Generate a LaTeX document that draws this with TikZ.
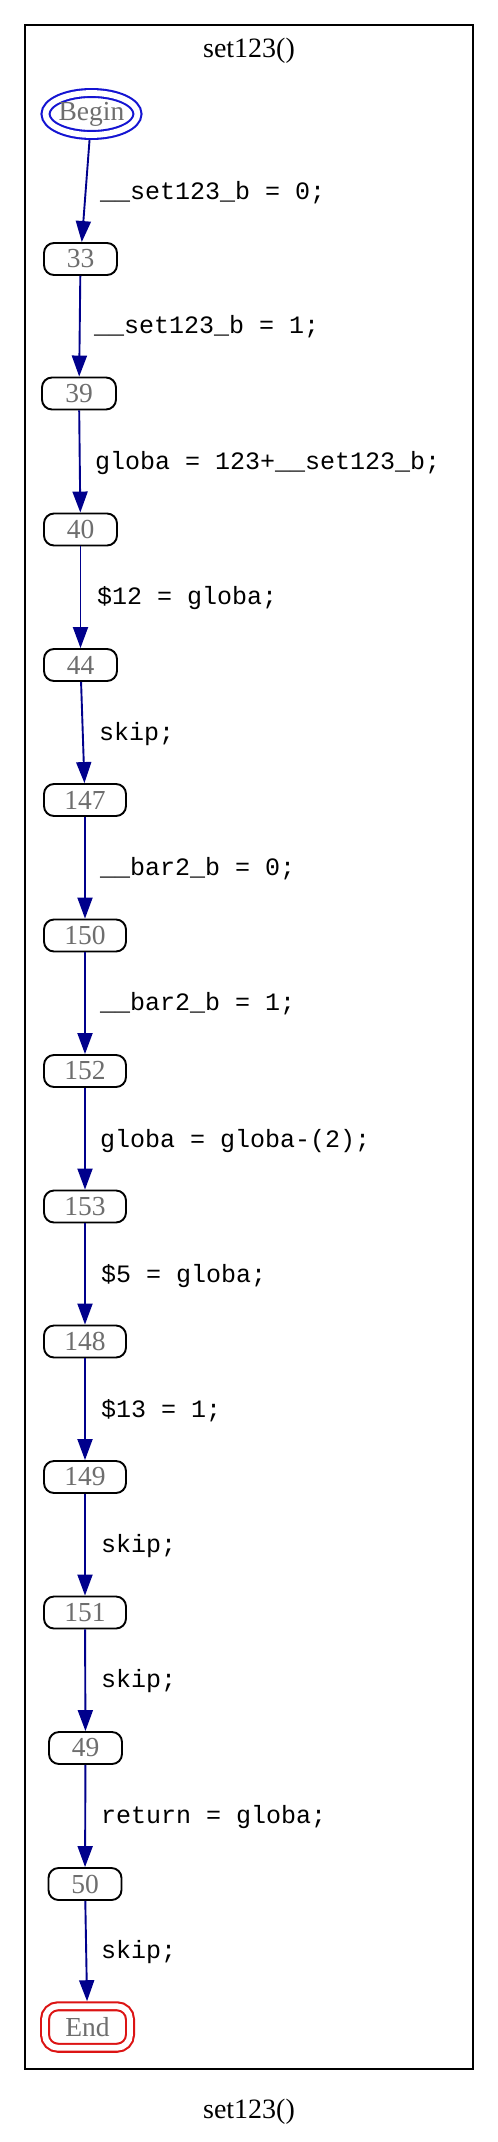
\documentclass[tikz,border=0pt]{standalone}
\usepackage{fontspec}
\setmainfont{Liberation Serif}
\newfontfamily\monofnt{Liberation Mono}
\usetikzlibrary{arrows.meta,shapes.geometric}
\definecolor{edgeblue}{RGB}{0,0,140}
\definecolor{beginblue}{RGB}{20,20,210}
\definecolor{endred}{RGB}{220,20,20}
\definecolor{lblgray}{RGB}{110,110,110}
\begin{document}
\begin{tikzpicture}[x=1pt,y=-1pt,
  nodefont/.style={font=\fontsize{27.5}{30}\selectfont},
  box/.style={draw=black, line width=1.9pt, rounded corners=10pt, minimum height=32pt, minimum width=73pt, inner sep=0pt, text=lblgray, nodefont},
  wide/.style={box, minimum width=82pt},
  startnode/.style={ellipse, draw=beginblue, double=white, double distance=5.8pt, line width=2.1pt, minimum width=92pt, minimum height=42pt, inner sep=0pt, text=lblgray, nodefont},
  endnode/.style={rectangle, draw=endred, double=white, double distance=5.8pt, line width=2.1pt, rounded corners=13pt, minimum width=85pt, minimum height=41.5pt, inner sep=0pt, text=lblgray, nodefont},
  flow/.style={draw=edgeblue, line width=1.9pt, -{Triangle[length=21pt,width=15pt]}},
  elabel/.style={anchor=base west, inner sep=0pt, font=\monofnt\fontsize{25}{28}\selectfont},
  titlestyle/.style={anchor=base, inner sep=0pt, font=\fontsize{28}{30}\selectfont}
]
\useasboundingbox (0,0) rectangle (498,2142);
\fill[white] (0,0) rectangle (498,2142);
\draw[line width=2pt] (25,25) rectangle (473,2069);
\node[titlestyle] (title) at (249,57) {set123()};
\node[titlestyle] (caption) at (249,2118) {set123()};

\node[startnode] (begin) at (91.5,114) {\makebox[0pt]{Begin}};
\node[box] (n33) at (80.5,259) {33};
\node[box, minimum width=74pt] (n39) at (79,393.5) {39};
\node[box] (n40) at (80.5,529.5) {40};
\node[box] (n44) at (80.5,665) {44};
\node[wide] (n147) at (85,800) {147};
\node[wide] (n150) at (85,935.5) {150};
\node[wide] (n152) at (85,1071) {152};
\node[wide] (n153) at (85,1206.5) {153};
\node[wide] (n148) at (85,1341.5) {148};
\node[wide] (n149) at (85,1477) {149};
\node[wide] (n151) at (85,1612.5) {151};
\node[box] (n49) at (85.5,1748) {49};
\node[box] (n50) at (85,1884) {50};
\node[endnode] (end) at (87.5,2027) {End};

\draw[flow, shorten <=4pt] (begin) -- (n33);
\draw[flow] (n33) -- (n39);
\draw[flow] (n39) -- (n40);
\draw[flow] (n40) -- (n44);
\draw[flow] (n44) -- (n147);
\draw[flow] (n147) -- (n150);
\draw[flow] (n150) -- (n152);
\draw[flow] (n152) -- (n153);
\draw[flow] (n153) -- (n148);
\draw[flow] (n148) -- (n149);
\draw[flow] (n149) -- (n151);
\draw[flow] (n151) -- (n49);
\draw[flow] (n49) -- (n50);
\draw[flow, shorten >=4pt] (n50) -- (end);

\node[elabel] (l1) at (100,199) {\_\_set123\_b = 0;};
\node[elabel] (l2) at (94,333) {\_\_set123\_b = 1;};
\node[elabel] (l3) at (95,469) {globa = 123+\_\_set123\_b;};
\node[elabel] (l4) at (97,604) {\$12 = globa;};
\node[elabel] (l5) at (99,740) {skip;};
\node[elabel] (l6) at (100,875) {\_\_bar2\_b = 0;};
\node[elabel] (l7) at (100,1010) {\_\_bar2\_b = 1;};
\node[elabel] (l8) at (100,1147) {globa = globa-(2);};
\node[elabel] (l9) at (101,1282) {\$5 = globa;};
\node[elabel] (l10) at (101,1417) {\$13 = 1;};
\node[elabel] (l11) at (101,1552) {skip;};
\node[elabel] (l12) at (101,1687) {skip;};
\node[elabel] (l13) at (101,1823) {return = globa;};
\node[elabel] (l14) at (101,1958) {skip;};
\end{tikzpicture}
\end{document}
